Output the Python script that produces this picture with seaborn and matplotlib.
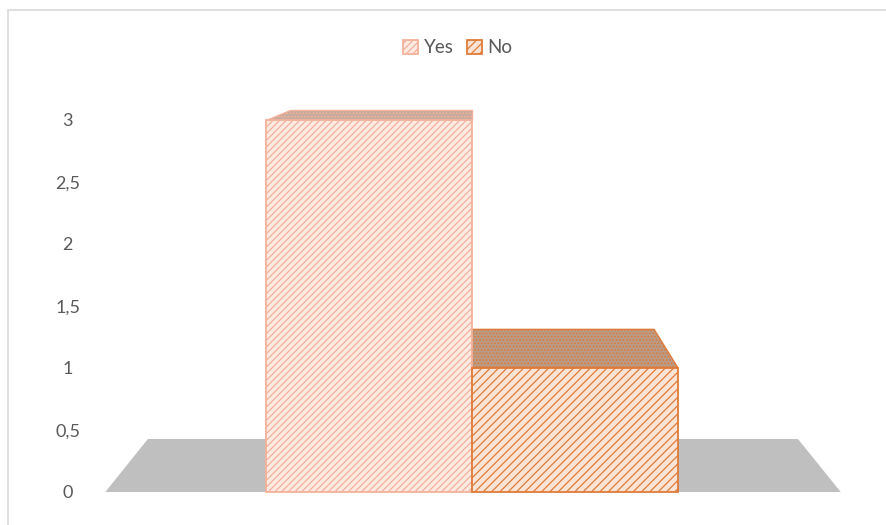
import numpy as np
import pandas as pd
from matplotlib import pyplot as plt
from matplotlib.patches import Rectangle
import seaborn as sns

# data

categories = ['Yes', 'No']
values = [3, 1]
tick_values = [0, 0.5, 1, 1.5, 2, 2.5, 3]
tick_labels = ['0', '0,5', '1', '1,5', '2', '2,5', '3']

face_colors = ['#fdeae2', '#fbe4d5']
edge_colors = ['#f4b19a', '#e07b39']
top_colors = ['#c6ab9f', '#b89c8a']
hatches = ['/////', '////']

# fake 3d view: back edges shrink toward a vanishing point
vp = np.array([0.5, 3.685])
depth_scale = 0.884


def project_back(points):
    return vp + depth_scale * (np.asarray(points, dtype=float) - vp)


sns.set_theme(style='white')
plt.rcParams['font.family'] = ['Lato', 'DejaVu Sans']
plt.rcParams['hatch.linewidth'] = 0.9

fig = plt.figure(figsize=(8.86, 5.25), dpi=100)
ax = fig.add_axes([101.2 / 886, 8.2 / 525, 741.6 / 886, 458.8 / 525])

df = pd.DataFrame({'answer': categories, 'count': values})
sns.barplot(data=df, x='answer', y='count', hue='answer', palette=face_colors,
            width=1, dodge=False, legend=False, saturation=1, ax=ax, zorder=3)

bars = list(ax.patches)
for bar, ec, hatch in zip(bars, edge_colors, hatches):
    bar.set_edgecolor(ec)
    bar.set_hatch(hatch)
    bar.set_linewidth(1.3)

# top faces of the columns
for bar, ec, tc in zip(bars, edge_colors, top_colors):
    x0 = bar.get_x()
    x1 = x0 + bar.get_width()
    h = bar.get_height()
    front = np.array([[x0, h], [x1, h]])
    back = project_back(front[::-1])
    poly = np.vstack([front, back])
    ax.fill(poly[:, 0], poly[:, 1], facecolor=tc, edgecolor=ec, hatch='.....',
            linewidth=1.0, zorder=2, clip_on=False)

# grey floor
floor_front = np.array([[-1.28, 0], [2.29, 0]])
floor = np.vstack([floor_front, project_back(floor_front[::-1])])
ax.fill(floor[:, 0], floor[:, 1], color='#bfbfbf', linewidth=0, zorder=1, clip_on=False)

ax.set_xlim(-1.3, 2.3)
ax.set_ylim(-0.2, 3.5)
ax.set_xlabel('')
ax.set_ylabel('')
ax.set_xticks([])
ax.set_yticks(tick_values)
ax.set_yticklabels(tick_labels, color='#595959', fontsize=13, ha='center')
ax.tick_params(axis='y', length=0, pad=24)
for side in ['top', 'right', 'bottom', 'left']:
    ax.spines[side].set_visible(False)
ax.set_facecolor('none')

fig.legend(handles=bars, labels=categories, loc='center', bbox_to_anchor=(0.517, 0.909),
           ncol=2, frameon=False, handlelength=0.8, handleheight=0.8,
           columnspacing=0.7, handletextpad=0.3, fontsize=13.5, labelcolor='#595959')

# chart area border (only top and left visible in the crop)
fig.add_artist(Rectangle((8 / 886, -0.1), 1.2, 1.1 - 10 / 525, transform=fig.transFigure,
                         fill=False, edgecolor='#d9d9d9', linewidth=1.2))

plt.savefig('out.png', dpi=100)
